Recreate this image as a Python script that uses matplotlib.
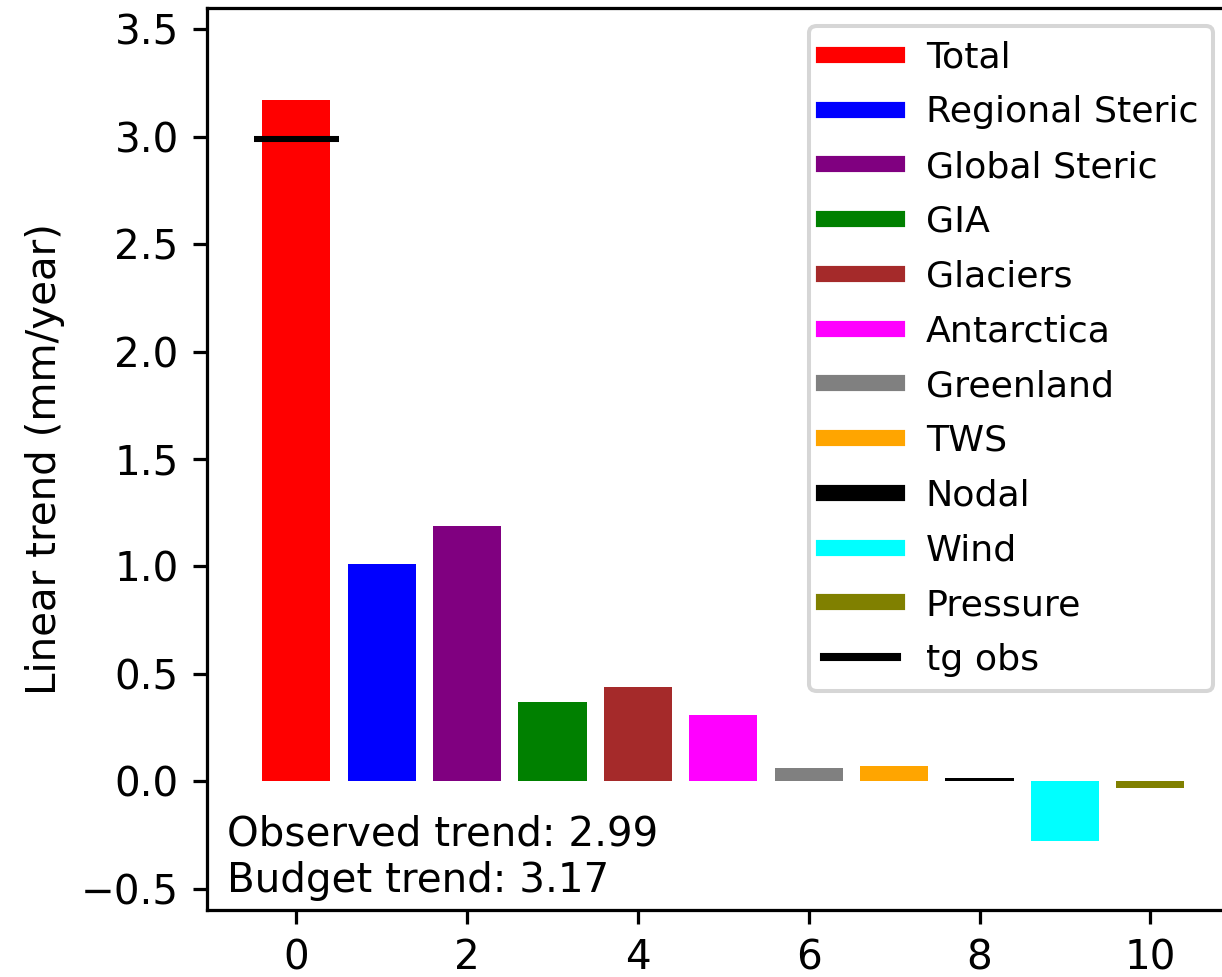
"""
Sea level budget: linear trend of each contribution against the tide gauge trend
"""
import matplotlib
matplotlib.use('Agg')
import matplotlib.pyplot as plt
from matplotlib.lines import Line2D

DPI = 291

# contributions to the sea level budget (mm/year)
components = ['Total', 'Regional Steric', 'Global Steric', 'GIA', 'Glaciers',
              'Antarctica', 'Greenland', 'TWS', 'Nodal', 'Wind', 'Pressure']
trends = [3.17, 1.01, 1.19, 0.37, 0.44, 0.31, 0.06, 0.07, 0.015, -0.28, -0.03]
colors = ['red', 'blue', 'purple', 'green', 'brown', 'magenta', 'grey',
          'orange', 'black', 'cyan', 'olive']

# tide gauge observed trend
tg_obs = 2.99
budget = trends[0]

yticks = [-0.5, 0.0, 0.5, 1.0, 1.5, 2.0, 2.5, 3.0, 3.5]

fig = plt.figure(figsize=(1222 / DPI, 977 / DPI), dpi=DPI)
ax = fig.add_axes([0.1694, 0.0686, 0.838, 0.9232])

positions = list(range(len(components)))
ax.bar(positions, trends, color=colors)

# observed trend drawn over the total bar
ax.plot([-0.5, 0.5], [tg_obs, tg_obs], color='black', lw=1.5,
        solid_capstyle='butt')

ax.set_ylim(-0.6, 3.6)
ax.set_yticks(yticks)
ax.set_ylabel('Linear trend (mm/year)')

ax.text(0.02, 0.01,
        f'Observed trend: {tg_obs:.2f}\nBudget trend: {budget:.2f}',
        transform=ax.transAxes, ha='left', va='bottom')

# legend uses thick lines instead of the bar patches
handles = [Line2D([0], [0], color=c, lw=4) for c in colors]
handles.append(Line2D([0], [0], color='black', lw=2))
labels = components + ['tg obs']
ax.legend(handles, labels, loc='upper right', fontsize=9.0, labelspacing=0.57)

fig.savefig('out.png', dpi=DPI)
